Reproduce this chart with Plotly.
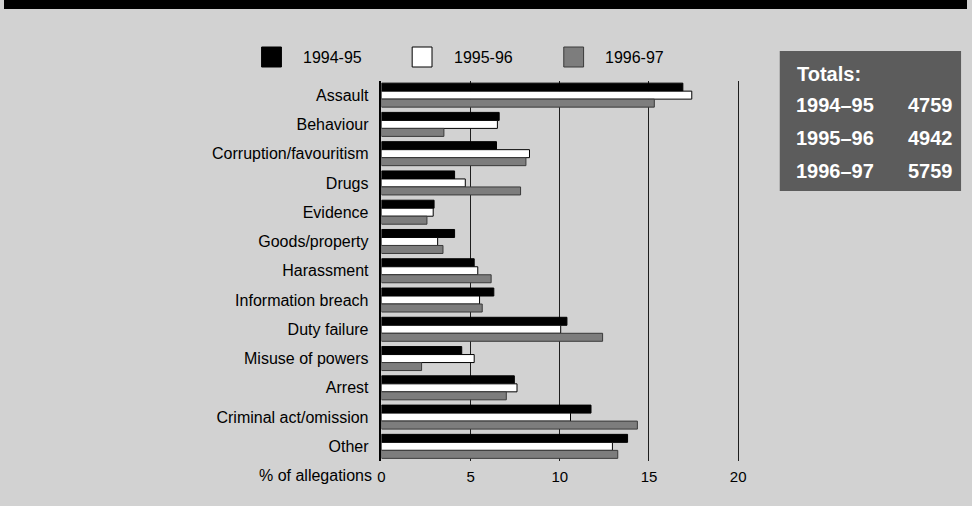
import plotly.graph_objects as go

# Allegation categories, top to bottom
categories = [
    "Assault", "Behaviour", "Corruption/favouritism", "Drugs", "Evidence",
    "Goods/property", "Harassment", "Information breach", "Duty failure",
    "Misuse of powers", "Arrest", "Criminal act/omission", "Other",
]

# Share of allegations (%) per year
pct_1994_95 = [16.9, 6.6, 6.45, 4.1, 2.95, 4.1, 5.2, 6.3, 10.4, 4.5, 7.45, 11.75, 13.8]
pct_1995_96 = [17.4, 6.5, 8.3, 4.7, 2.9, 3.15, 5.4, 5.5, 10.05, 5.2, 7.6, 10.6, 12.95]
pct_1996_97 = [15.3, 3.5, 8.1, 7.8, 2.55, 3.45, 6.15, 5.65, 12.4, 2.25, 7.0, 14.35, 13.25]

series_names = ["1994-95", "1995-96", "1996-97"]
totals_labels = ["1994\u201395", "1995\u201396", "1996\u201397"]
totals_values = ["4759", "4942", "5759"]
x_ticks = [0, 5, 10, 15, 20]

W, H = 972, 506
FONT = "Liberation Sans, Arial, Helvetica, sans-serif"
fills = ["#000000", "#ffffff", "#7d7d7d"]
edges = ["#000000", "#000000", "#3a3a3a"]


def px(x):
    return x / W


def py(y):
    return 1 - y / H


fig = go.Figure()
for name, vals, fc, ec in zip(series_names, [pct_1994_95, pct_1995_96, pct_1996_97], fills, edges):
    fig.add_trace(go.Bar(
        y=categories, x=vals, name=name, orientation="h",
        marker=dict(color=fc, line=dict(color=ec, width=1)),
        showlegend=False,
    ))

x0_px, unit_px = 381, 18.0
x_max = 20.2

shapes = [
    # black band along the top edge
    dict(type="rect", xref="paper", yref="paper", x0=0, x1=1, y0=py(9), y1=1,
         fillcolor="#000000", line=dict(width=0), layer="above"),
    # totals panel
    dict(type="rect", xref="paper", yref="paper", x0=px(783), x1=px(966),
         y0=py(191), y1=py(51), fillcolor="#5c5c5c", line=dict(width=0)),
]
annotations = []

# legend keys
key_x = [260, 412, 565]
for kx, name, fc, ec in zip(key_x, series_names, fills, edges):
    shapes.append(dict(type="rect", xref="paper", yref="paper",
                       x0=px(kx), x1=px(kx + 20), y0=py(67), y1=py(47),
                       fillcolor=fc, line=dict(color=ec, width=1)))
    annotations.append(dict(x=px(kx + 40), y=py(57), xref="paper", yref="paper",
                            text=name, showarrow=False, xanchor="left", yanchor="middle",
                            font=dict(family=FONT, size=16, color="#000000")))

# totals text
annotations.append(dict(x=px(798), y=py(74), xref="paper", yref="paper",
                        text="<b>Totals:</b>", showarrow=False, xanchor="left", yanchor="middle",
                        font=dict(family=FONT, size=20, color="#ffffff")))
for i, (lab, val) in enumerate(zip(totals_labels, totals_values)):
    yy = 105 + 33 * i
    annotations.append(dict(x=px(797), y=py(yy), xref="paper", yref="paper",
                            text=f"<b>{lab}</b>", showarrow=False, xanchor="left", yanchor="middle",
                            font=dict(family=FONT, size=20, color="#ffffff")))
    annotations.append(dict(x=px(960), y=py(yy), xref="paper", yref="paper",
                            text=f"<b>{val}</b>", showarrow=False, xanchor="right", yanchor="middle",
                            font=dict(family=FONT, size=20, color="#ffffff")))

# axis caption beside the tick labels
annotations.append(dict(x=px(373), y=py(475), xref="paper", yref="paper",
                        text="% of allegations", showarrow=False, xanchor="right", yanchor="middle",
                        font=dict(family=FONT, size=16, color="#000000")))

fig.update_layout(
    width=W, height=H,
    margin=dict(l=0, r=0, t=0, b=0),
    paper_bgcolor="#d2d2d2",
    plot_bgcolor="rgba(0,0,0,0)",
    barmode="group", bargap=0.18, bargroupgap=0,
    shapes=shapes, annotations=annotations,
    xaxis=dict(
        domain=[px(x0_px), px(x0_px + unit_px * x_max)],
        range=[0, x_max], tickvals=x_ticks, ticks="",
        showgrid=True, gridcolor="#1e1e1e", gridwidth=1,
        zeroline=False, showline=False,
        tickfont=dict(family=FONT, size=15, color="#000000"),
        ticklabelstandoff=5,
    ),
    yaxis=dict(
        domain=[py(461), py(80.5)],
        categoryorder="array", categoryarray=categories,
        autorange="reversed", ticks="",
        showgrid=False, zeroline=False,
        showline=True, linecolor="#000000", linewidth=1.5,
        tickfont=dict(family=FONT, size=16, color="#000000"),
        ticklabelstandoff=8,
    ),
)

fig.write_html("out.html")
